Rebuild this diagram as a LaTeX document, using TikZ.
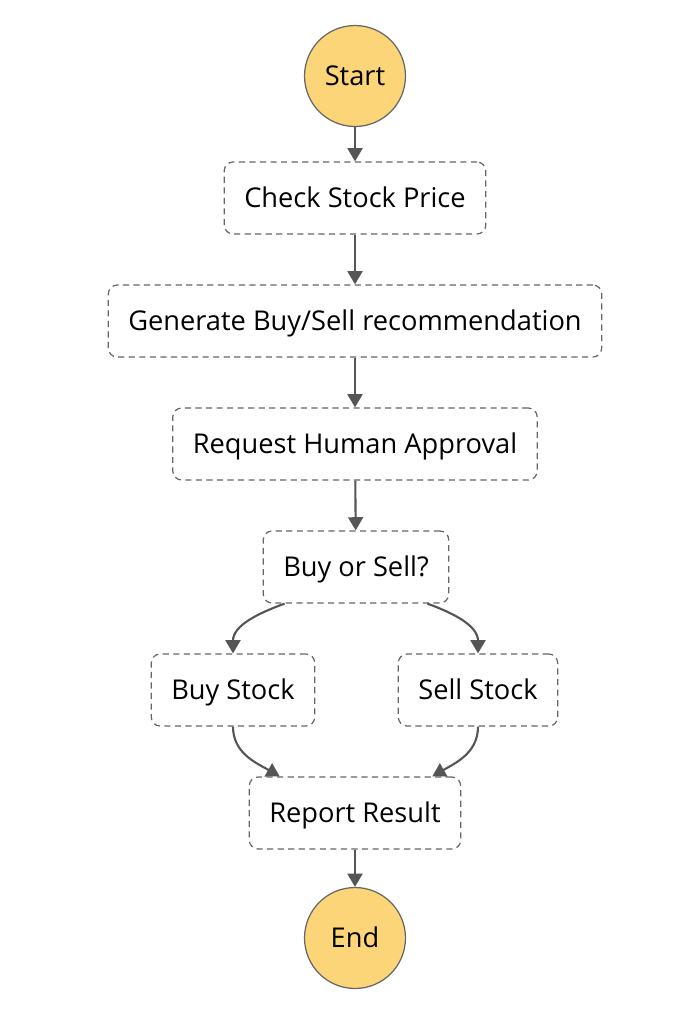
\documentclass[tikz,border=0pt]{standalone}
\usepackage{fontspec}
\setmainfont{Open Sans}
\usepackage{tikz}
\usetikzlibrary{arrows.meta}
\definecolor{startfill}{HTML}{FBD577}
\definecolor{linegray}{HTML}{555555}
\definecolor{dashgray}{HTML}{666666}

\begin{document}
\begin{tikzpicture}[x=0.02cm, y=-0.02cm,
    every node/.style={font=\fontsize{15.5}{18}\selectfont, text height=11pt, text depth=0pt},
    terminal/.style={circle, draw=dashgray, line width=0.7pt, fill=startfill, minimum size=2.02cm, inner sep=0pt},
    task/.style={rectangle, rounded corners=5pt, draw=dashgray, line width=0.7pt, dash pattern=on 3.5pt off 2.5pt, minimum height=1.44cm, inner xsep=0.4cm},
    arr/.style={-{Triangle[length=7.5pt, width=8.5pt]}, draw=linegray, line width=1.2pt}]
            \useasboundingbox (0, 0) rectangle (688, 1022);
            \node[terminal] at (355, 76)   (start) {Start};
            \node[task] at (355, 198)   (check) {Check Stock Price};
            \node[task] at (355, 321)   (gen) {Generate Buy/Sell recommendation};
            \node[task] at (355, 444)   (approval) {Request Human Approval};
            \node[task] at (356, 567)   (choice) {Buy or Sell?};
            \node[task] at (233, 690)   (buy) {Buy Stock};
            \node[task] at (478, 690)   (sell) {Sell Stock};
            \node[task] at (355, 813)   (report) {Report Result};
            \node[terminal] at (355, 938)   (end) {End};
    
            \draw [arr] (start) -- (check);
            \draw [arr] (check) -- (gen);
            \draw [arr] (gen) -- (approval);
            \draw [arr] (approval) -- (choice);
            \draw [arr] ([xshift=0.44cm]choice.south west) to[out=200, in=90] (buy.north);
            \draw [arr] ([xshift=-0.44cm]choice.south east) to[out=-20, in=90] (sell.north);
            \draw [arr] (buy.south) to[out=-90, in=150] ([xshift=0.62cm]report.north west);
            \draw [arr] (sell.south) to[out=-90, in=30] ([xshift=-0.58cm]report.north east);
            \draw [arr] (report) -- (end);
        \end{tikzpicture}
\end{document}
